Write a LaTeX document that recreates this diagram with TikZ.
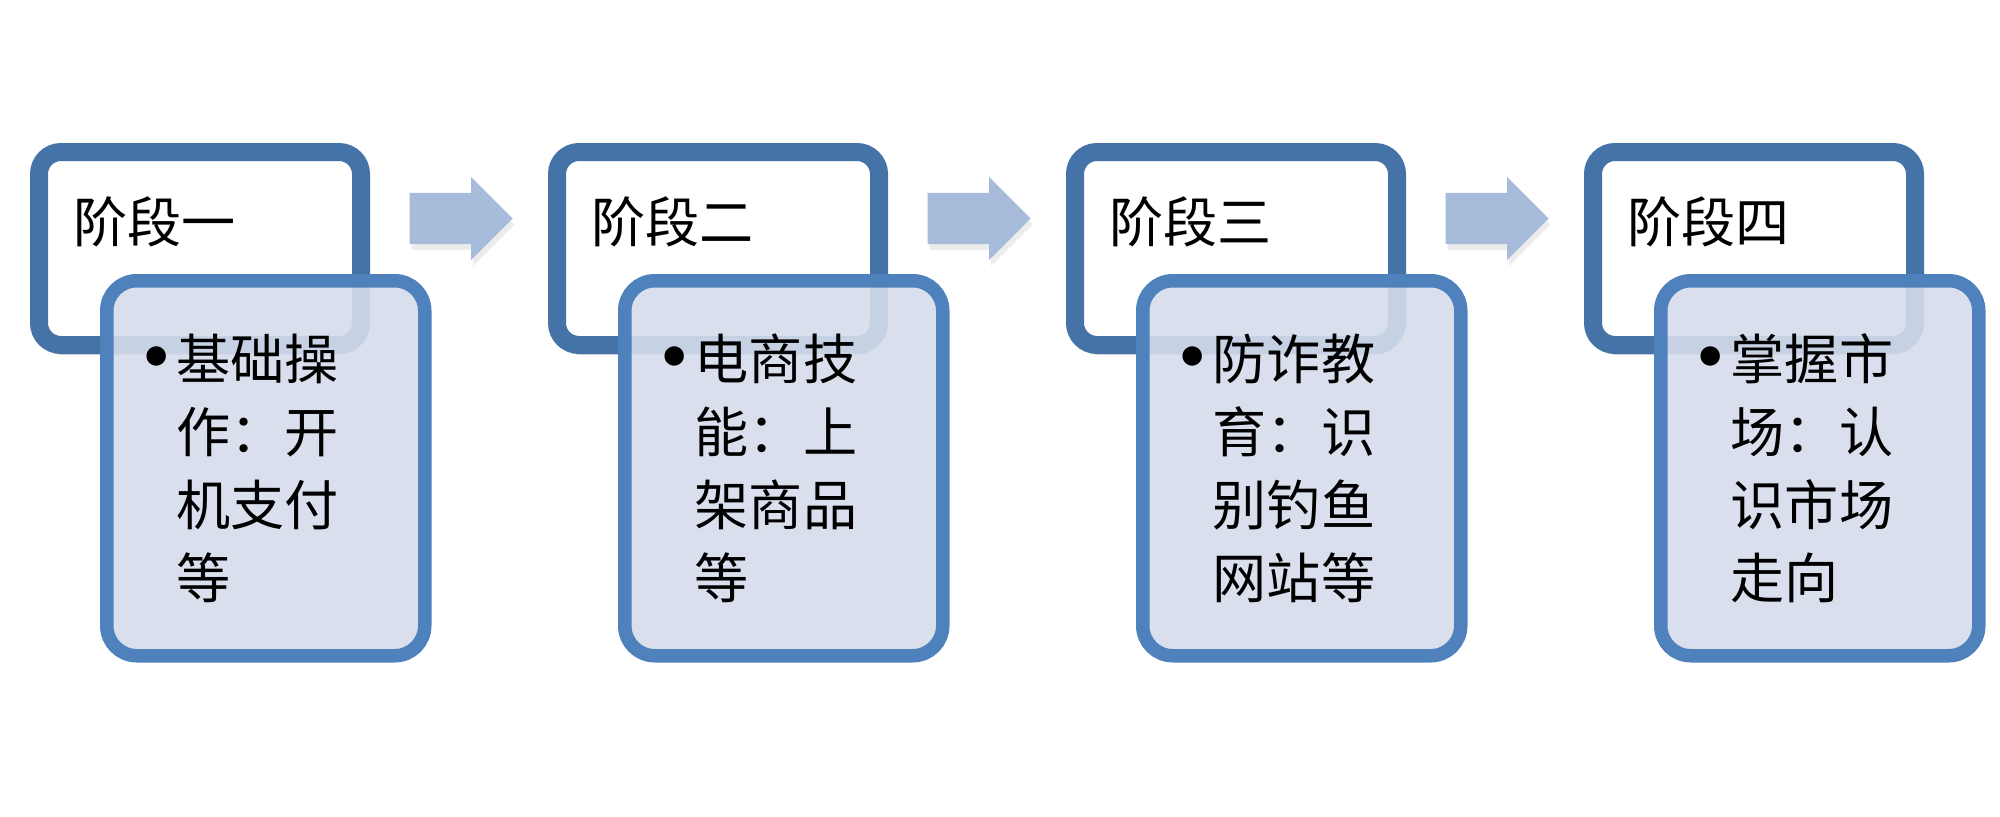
\documentclass[tikz,border=0pt]{standalone}
\usepackage{fontspec}
\newfontfamily\cjk{Noto Sans CJK SC}
\usetikzlibrary{shapes,arrows,positioning,shadows}
\definecolor{stageblue}{RGB}{69,114,167}
\definecolor{itemblue}{RGB}{79,129,189}
\definecolor{itemfill}{RGB}{213,220,235}
\definecolor{flowfill}{RGB}{167,188,219}
\newcommand{\itembullet}{\makebox[0.4cm][c]{\scalebox{1.6}{\normalfont\textbullet}}}

\begin{document}
\begin{tikzpicture}[
    stage/.style={rectangle, draw=stageblue, line width=0.18cm, fill=white, rounded corners=0.22cm, minimum width=3.22cm, minimum height=1.93cm, drop shadow={shadow xshift=0.02cm, shadow yshift=-0.1cm, opacity=0.25}},
    title/.style={anchor=west, inner sep=0pt, font=\cjk\fontsize{15.4}{18}\selectfont},
    item/.style={rectangle, draw=itemblue, line width=0.135cm, fill=itemfill, fill opacity=0.9, text opacity=1, rounded corners=0.3cm, minimum width=3.18cm, minimum height=3.75cm, anchor=north west, text width=2.58cm, inner xsep=0.30cm, align=left, font=\cjk\fontsize{15.4}{20.8}\selectfont},
    flow/.style={single arrow, draw=none, fill=flowfill, minimum width=0.82cm, minimum height=1.03cm, single arrow head extend=0.16cm, inner xsep=0pt, inner ysep=0.25cm, drop shadow={shadow xshift=0.02cm, shadow yshift=-0.06cm, opacity=0.15}}
]
\useasboundingbox (0,0) rectangle (20,-8.17);

% Stage frames
\node[stage] (s1) at (2.0,-2.485) {};
\node[stage, right=1.78cm of s1] (s2) {};
\node[stage, right=1.78cm of s2] (s3) {};
\node[stage, right=1.78cm of s3] (s4) {};

% Stage titles
\node[title] (t1) at ([xshift=0.43cm, yshift=-0.79cm]s1.north west) {阶段一};
\node[title] (t2) at ([xshift=0.43cm, yshift=-0.79cm]s2.north west) {阶段二};
\node[title] (t3) at ([xshift=0.43cm, yshift=-0.79cm]s3.north west) {阶段三};
\node[title] (t4) at ([xshift=0.43cm, yshift=-0.79cm]s4.north west) {阶段四};

% Arrows between stages
\node[flow, right=0.39cm of s1, yshift=0.3cm] (a1) {};
\node[flow, right=0.39cm of s2, yshift=0.3cm] (a2) {};
\node[flow, right=0.39cm of s3, yshift=0.3cm] (a3) {};

% Detail boxes
\node[item] (d1) at ([xshift=0.70cm, yshift=-1.31cm]s1.north west) {\itembullet\parbox[t]{1.9cm}{基础操\\作：开\\机支付\\等}};
\node[item] (d2) at ([xshift=0.70cm, yshift=-1.31cm]s2.north west) {\itembullet\parbox[t]{1.9cm}{电商技\\能：上\\架商品\\等}};
\node[item] (d3) at ([xshift=0.70cm, yshift=-1.31cm]s3.north west) {\itembullet\parbox[t]{1.9cm}{防诈教\\育：识\\别钓鱼\\网站等}};
\node[item] (d4) at ([xshift=0.70cm, yshift=-1.31cm]s4.north west) {\itembullet\parbox[t]{1.9cm}{掌握市\\场：认\\识市场\\走向}};

\end{tikzpicture}
\end{document}
